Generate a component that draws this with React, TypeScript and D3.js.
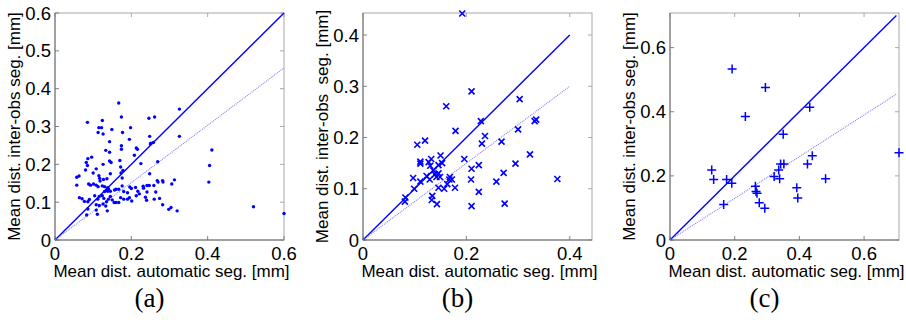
import * as d3 from 'd3';

// (a) all points: [automatic, inter-obs]
const pointsA: [number, number][] = [
  [0.167, 0.362], [0.174, 0.325], [0.085, 0.311], [0.124, 0.316], [0.115, 0.297], [0.122, 0.297],
  [0.113, 0.284], [0.126, 0.28], [0.149, 0.292], [0.198, 0.297], [0.246, 0.322], [0.261, 0.325],
  [0.326, 0.346], [0.248, 0.274], [0.326, 0.274], [0.177, 0.284], [0.195, 0.266], [0.143, 0.26],
  [0.174, 0.249], [0.174, 0.24], [0.133, 0.237], [0.143, 0.232], [0.213, 0.243], [0.216, 0.24],
  [0.208, 0.224], [0.25, 0.254], [0.251, 0.256], [0.258, 0.258], [0.225, 0.202], [0.269, 0.207],
  [0.411, 0.238], [0.405, 0.197], [0.403, 0.153], [0.096, 0.219], [0.086, 0.215], [0.082, 0.205],
  [0.085, 0.197], [0.108, 0.188], [0.126, 0.2], [0.143, 0.209], [0.147, 0.205], [0.17, 0.21],
  [0.057, 0.166], [0.063, 0.169], [0.057, 0.145], [0.08, 0.185], [0.1, 0.177], [0.115, 0.17],
  [0.117, 0.163], [0.118, 0.156], [0.127, 0.16], [0.136, 0.162], [0.145, 0.175], [0.172, 0.193],
  [0.178, 0.184], [0.176, 0.164], [0.173, 0.177], [0.088, 0.148], [0.093, 0.145], [0.101, 0.148],
  [0.108, 0.145], [0.113, 0.141], [0.124, 0.143], [0.13, 0.141], [0.138, 0.138], [0.14, 0.135],
  [0.136, 0.133], [0.13, 0.128], [0.138, 0.129], [0.145, 0.129], [0.156, 0.132], [0.16, 0.134],
  [0.167, 0.134], [0.176, 0.143], [0.18, 0.128], [0.19, 0.125], [0.196, 0.14], [0.2, 0.136],
  [0.211, 0.139], [0.217, 0.129], [0.231, 0.142], [0.232, 0.137], [0.241, 0.144], [0.248, 0.175],
  [0.247, 0.144], [0.259, 0.144], [0.268, 0.157], [0.27, 0.153], [0.282, 0.157], [0.283, 0.153],
  [0.306, 0.148], [0.313, 0.159], [0.264, 0.127], [0.241, 0.127], [0.064, 0.112], [0.071, 0.109],
  [0.077, 0.102], [0.086, 0.101], [0.09, 0.107], [0.104, 0.117], [0.112, 0.108], [0.116, 0.115],
  [0.124, 0.117], [0.128, 0.11], [0.108, 0.093], [0.116, 0.091], [0.126, 0.095], [0.135, 0.101],
  [0.14, 0.108], [0.145, 0.115], [0.15, 0.106], [0.155, 0.099], [0.16, 0.099], [0.167, 0.099],
  [0.172, 0.112], [0.18, 0.108], [0.19, 0.108], [0.195, 0.112], [0.201, 0.103], [0.213, 0.117],
  [0.221, 0.122], [0.237, 0.113], [0.24, 0.105], [0.26, 0.108], [0.274, 0.11], [0.282, 0.093],
  [0.304, 0.086], [0.086, 0.082], [0.108, 0.079], [0.133, 0.09], [0.083, 0.066], [0.111, 0.068],
  [0.137, 0.077], [0.32, 0.077], [0.298, 0.081], [0.52, 0.088], [0.6, 0.07],
];

// (b) all points
const pointsB: [number, number][] = [
  [0.192, 0.442], [0.21, 0.29], [0.161, 0.261], [0.303, 0.275], [0.228, 0.232], [0.179, 0.213],
  [0.236, 0.203], [0.23, 0.188], [0.268, 0.192], [0.3, 0.216], [0.332, 0.232], [0.335, 0.235],
  [0.323, 0.167], [0.295, 0.149], [0.272, 0.131], [0.258, 0.114], [0.274, 0.071], [0.376, 0.119],
  [0.21, 0.066], [0.224, 0.094], [0.224, 0.146], [0.21, 0.139], [0.209, 0.118], [0.196, 0.158],
  [0.12, 0.194], [0.105, 0.186], [0.15, 0.165], [0.153, 0.15], [0.132, 0.158], [0.111, 0.153],
  [0.111, 0.149], [0.127, 0.152], [0.13, 0.145], [0.146, 0.146], [0.097, 0.121], [0.111, 0.114],
  [0.099, 0.1], [0.082, 0.083], [0.081, 0.075], [0.123, 0.125], [0.129, 0.118], [0.136, 0.136],
  [0.139, 0.128], [0.146, 0.13], [0.149, 0.123], [0.142, 0.123], [0.167, 0.118], [0.172, 0.118],
  [0.168, 0.123], [0.163, 0.109], [0.157, 0.1], [0.178, 0.102], [0.146, 0.102], [0.134, 0.086],
  [0.133, 0.078], [0.143, 0.07],
];

// (c) all points
const pointsC: [number, number][] = [
  [0.192, 0.533], [0.295, 0.476], [0.233, 0.385], [0.432, 0.414], [0.35, 0.33], [0.708, 0.272],
  [0.44, 0.263], [0.425, 0.237], [0.342, 0.237], [0.352, 0.237], [0.336, 0.218], [0.322, 0.198],
  [0.339, 0.191], [0.481, 0.191], [0.129, 0.218], [0.135, 0.189], [0.175, 0.189], [0.191, 0.177],
  [0.264, 0.168], [0.266, 0.151], [0.269, 0.146], [0.276, 0.116], [0.293, 0.099], [0.166, 0.111],
  [0.392, 0.163], [0.395, 0.131],
];

const xTicksA = [0, 0.2, 0.4, 0.6];
const yTicksA = [0, 0.1, 0.2, 0.3, 0.4, 0.5, 0.6];
const xTicksB = [0, 0.2, 0.4];
const yTicksB = [0, 0.1, 0.2, 0.3, 0.4];
const xTicksC = [0, 0.2, 0.4, 0.6];
const yTicksC = [0, 0.2, 0.4, 0.6];

// fit slopes of the dotted lines, and line end x
const slopes = [0.758, 0.75, 0.65];
const lineEnds = [0.6, 0.4, 0.7];
const domainMax = [0.6, 0.443, 0.708];

const xLabel = 'Mean dist. automatic seg. [mm]';
const yLabels = ['Mean dist. inter-obs seg. [mm]', 'Mean dist. inter-obs  seg. [mm]', 'Mean dist. inter-obs seg. [mm]'];
const captions = ['(a)', '(b)', '(c)'];

const BLUE = '#0000ff';
const FONT = 'Liberation Sans, Arial, sans-serif';

type Marker = 'dot' | 'x' | 'plus';

const Panel = ({ idx, left, data, xTicks, yTicks, marker }: {
  idx: number; left: number; data: [number, number][]; xTicks: number[]; yTicks: number[]; marker: Marker;
}) => {
  const top = 13, bottom = 240, w = 229;
  const x = d3.scaleLinear().domain([0, domainMax[idx]]).range([left, left + w]);
  const y = d3.scaleLinear().domain([0, domainMax[idx]]).range([bottom, top]);
  const tl = 4;
  const fmt = (v: number) => (v === 0 ? '0' : String(v));
  const diag = d3.line<[number, number]>().x(d => x(d[0])).y(d => y(d[1]));
  const end = lineEnds[idx];

  return (
    <g>
      <rect x={left} y={top} width={w} height={bottom - top} fill="white" stroke="#a8a8a8" strokeWidth={1} />
      {xTicks.map(t => (
        <g key={'x' + t}>
          <line x1={x(t)} x2={x(t)} y1={bottom} y2={bottom - tl} stroke="#808080" />
          <line x1={x(t)} x2={x(t)} y1={top} y2={top + tl} stroke="#a8a8a8" />
          <text x={x(t)} y={260} textAnchor="middle" fontSize={18.5} fontFamily={FONT}>{fmt(t)}</text>
        </g>
      ))}
      {yTicks.map(t => (
        <g key={'y' + t}>
          <line x1={left} x2={left + tl} y1={y(t)} y2={y(t)} stroke="#808080" />
          <line x1={left + w} x2={left + w - tl} y1={y(t)} y2={y(t)} stroke="#a8a8a8" />
          <text x={left - 4} y={y(t) + 6.5} textAnchor="end" fontSize={18.5} fontFamily={FONT}>{fmt(t)}</text>
        </g>
      ))}
      <line x1={left} x2={left} y1={top} y2={bottom} stroke="#707070" />
      <line x1={left} x2={left + w} y1={bottom} y2={bottom} stroke="#707070" />
      <path d={diag([[0, 0], [end, end]]) || ''} stroke={BLUE} strokeWidth={1.4} fill="none" />
      <path d={diag([[0, 0], [end, end * slopes[idx]]]) || ''} stroke="#8080ff" strokeWidth={1.1} strokeDasharray="1 1" fill="none" />
      {data.map((d, i) => {
        const px = x(d[0]), py = y(d[1]);
        if (marker === 'dot') return <circle key={i} cx={px} cy={py} r={1.7} fill={BLUE} />;
        if (marker === 'x') return (
          <path key={i} d={`M${px - 3},${py - 3}L${px + 3},${py + 3}M${px - 3},${py + 3}L${px + 3},${py - 3}`} stroke={BLUE} strokeWidth={1.6} />
        );
        return (
          <path key={i} d={`M${px - 4.5},${py}L${px + 4.5},${py}M${px},${py - 4.5}L${px},${py + 4.5}`} stroke={BLUE} strokeWidth={1.5} />
        );
      })}
      <text x={left + w / 2 + 2} y={277} textAnchor="middle" fontSize={17} fontFamily={FONT}>{xLabel}</text>
      <text transform={`translate(${left - 35},${(top + bottom) / 2}) rotate(-90)`} textAnchor="middle"
        fontSize={17} fontFamily={FONT} style={{ whiteSpace: 'pre' }}>{yLabels[idx]}</text>
      <text x={(left - 40 + left + w) / 2} y={307} textAnchor="middle" fontSize={27} fontFamily="Liberation Serif, serif">{captions[idx]}</text>
    </g>
  );
};

export default function App() {
  return (
    <svg width={906} height={320} style={{ position: 'absolute', left: 0, top: 0, background: 'white' }}>
      <rect width={906} height={320} fill="white" />
      <Panel idx={0} left={55} data={pointsA} xTicks={xTicksA} yTicks={yTicksA} marker="dot" />
      <Panel idx={1} left={363} data={pointsB} xTicks={xTicksB} yTicks={yTicksB} marker="x" />
      <Panel idx={2} left={670} data={pointsC} xTicks={xTicksC} yTicks={yTicksC} marker="plus" />
    </svg>
  );
}
